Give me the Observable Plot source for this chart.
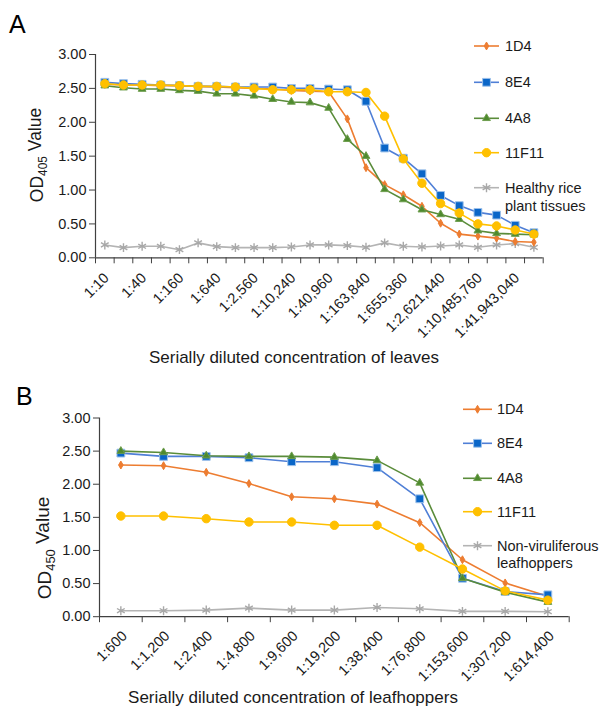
<!DOCTYPE html>
<html>
<head>
<meta charset="utf-8">
<script src="https://cdn.jsdelivr.net/npm/d3@7"></script>
<script src="https://cdn.jsdelivr.net/npm/@observablehq/plot@0.6"></script>
<style>
  html, body { margin: 0; padding: 0; background: #fff; }
  #chart { width: 601px; height: 710px; position: relative; }
  #chart svg { display: block; overflow: visible; }
</style>
</head>
<body>
<div id="chart"></div>
<script>
// ---------- DATA ----------
const seriesNames = ["1D4", "8E4", "4A8", "11F11"];

// Panel A: serial dilutions of leaves
const catsA = ["1:10", "1:20", "1:40", "1:80", "1:160", "1:320", "1:640", "1:1,280",
  "1:2,560", "1:5,120", "1:10,240", "1:20,480", "1:40,960", "1:81,920", "1:163,840",
  "1:327,680", "1:655,360", "1:1,310,720", "1:2,621,440", "1:5,242,880", "1:10,485,760",
  "1:20,971,520", "1:41,943,040", "1:83,886,080"];
const labeledA = ["1:10", "1:40", "1:160", "1:640", "1:2,560", "1:10,240", "1:40,960",
  "1:163,840", "1:655,360", "1:2,621,440", "1:10,485,760", "1:41,943,040"];
const a1D4 = [2.56, 2.55, 2.55, 2.54, 2.54, 2.53, 2.52, 2.51, 2.50, 2.49, 2.47, 2.46, 2.45, 2.05, 1.33, 1.08, 0.93, 0.76, 0.51, 0.35, 0.32, 0.29, 0.24, 0.23];
const a8E4 = [2.59, 2.57, 2.56, 2.55, 2.54, 2.53, 2.53, 2.52, 2.52, 2.52, 2.50, 2.50, 2.49, 2.48, 2.31, 1.62, 1.47, 1.24, 0.92, 0.77, 0.67, 0.63, 0.48, 0.37];
const a4A8 = [2.54, 2.51, 2.49, 2.49, 2.47, 2.46, 2.42, 2.42, 2.39, 2.34, 2.30, 2.29, 2.21, 1.75, 1.50, 1.01, 0.86, 0.71, 0.64, 0.57, 0.40, 0.36, 0.35, 0.34];
const a11F11 = [2.57, 2.55, 2.55, 2.55, 2.54, 2.53, 2.53, 2.52, 2.50, 2.48, 2.48, 2.48, 2.45, 2.45, 2.44, 2.09, 1.46, 1.10, 0.80, 0.66, 0.50, 0.47, 0.41, 0.35];
const aHealthy = [0.19, 0.15, 0.17, 0.17, 0.12, 0.22, 0.165, 0.15, 0.15, 0.15, 0.16, 0.19, 0.19, 0.18, 0.155, 0.22, 0.17, 0.16, 0.175, 0.19, 0.155, 0.19, 0.21, 0.155];
const controlNameA = ["Healthy rice", "plant tissues"];

// Panel B: serial dilutions of leafhoppers
const catsB = ["1:600", "1:1,200", "1:2,400", "1:4,800", "1:9,600", "1:19,200",
  "1:38,400", "1:76,800", "1:153,600", "1:307,200", "1:614,400"];
const b1D4 = [2.29, 2.28, 2.18, 2.01, 1.81, 1.78, 1.70, 1.42, 0.86, 0.51, 0.31];
const b8E4 = [2.47, 2.42, 2.42, 2.40, 2.34, 2.34, 2.25, 1.78, 0.58, 0.38, 0.33];
const b4A8 = [2.50, 2.48, 2.43, 2.42, 2.42, 2.41, 2.36, 2.02, 0.58, 0.37, 0.22];
const b11F11 = [1.52, 1.52, 1.48, 1.43, 1.43, 1.38, 1.38, 1.05, 0.72, 0.39, 0.25];
const bControl = [0.09, 0.09, 0.10, 0.13, 0.10, 0.10, 0.14, 0.12, 0.08, 0.08, 0.075];
const controlNameB = ["Non-viruliferous", "leafhoppers"];

const yTicks = [0, 0.5, 1, 1.5, 2, 2.5, 3];

// ---------- STYLE ----------
const FONT = "'Liberation Sans', Arial, Helvetica, sans-serif";
const AXIS = "#404040";
const TEXT = "#1a1a1a";
const styles = {
  "1D4":   {line: "#ED7D31", fill: "#ED7D31", stroke: "#ED7D31", symbol: "diamond", r: 2.4, sw: 1},
  "8E4":   {line: "#4F7FD6", fill: "#0A66C8", stroke: "#9CC0EA", symbol: "square", r: 4.4, sw: 1},
  "4A8":   {line: "#5A8C3A", fill: "#4E8A2E", stroke: "#6E9E4E", symbol: "triangle", r: 2.9, sw: 1},
  "11F11": {line: "#FFC000", fill: "#FFC000", stroke: "#FFC000", symbol: "circle", r: 4.2, sw: 1},
  "ctrl":  {line: "#B4B4B4", fill: "none", stroke: "#A8A8A8", symbol: "asterisk", r: 4.2, sw: 1.4}
};
const d3Sym = {diamond: d3.symbolDiamond, square: d3.symbolSquare, triangle: d3.symbolTriangle, circle: d3.symbolCircle, asterisk: d3.symbolAsterisk};

function rows(values) { return values.map((v, i) => ({i, v})); }

function makePanel(cfg) {
  const n = cfg.cats.length;
  const boundaries = d3.range(n + 1).map(k => k - 0.5);
  const labelIdx = cfg.labeled.map(l => cfg.cats.indexOf(l));
  const marks = [
    Plot.axisY({ticks: yTicks, tickFormat: d => d.toFixed(2), tickSize: 6, tickPadding: 3,
      label: null, stroke: AXIS, fill: TEXT, fontSize: 14.5}),
    Plot.axisX({ticks: boundaries, tickFormat: () => "", tickSize: 6, label: null, stroke: AXIS}),
    Plot.ruleX([-0.5], {stroke: AXIS, strokeWidth: 1.2}),
    Plot.ruleY([0], {stroke: AXIS, strokeWidth: 1.2}),
    Plot.text(labelIdx, {x: d => d, frameAnchor: "bottom", text: d => cfg.cats[d], rotate: -45,
      textAnchor: "end", dx: cfg.lblDx, dy: cfg.lblDy, fontSize: 14.5, fill: TEXT})
  ];
  const order = ["ctrl", "1D4", "8E4", "4A8", "11F11"];
  for (const key of order) {
    const st = styles[key];
    const data = rows(cfg.series[key]);
    marks.push(Plot.line(data, {x: "i", y: "v", stroke: st.line, strokeWidth: 1.6}));
    if (st.symbol === "asterisk") {
      marks.push(Plot.dot(data, {x: "i", y: "v", symbol: () => "asterisk", r: st.r, stroke: st.stroke, strokeWidth: st.sw, fill: "none"}));
    } else {
      marks.push(Plot.dot(data, {x: "i", y: "v", symbol: () => st.symbol, r: st.r, fill: st.fill, stroke: st.stroke, strokeWidth: st.sw}));
    }
  }
  const svg = Plot.plot({
    width: 601, height: cfg.height,
    marginLeft: cfg.ml, marginRight: cfg.mr, marginTop: cfg.mt, marginBottom: cfg.mb,
    x: {type: "linear", domain: [-0.5, n - 0.5], axis: null},
    y: {domain: [0, 3], axis: null},
    symbol: {type: "identity"},
    style: {fontFamily: FONT, fontSize: "14.5px", background: "#fff", color: TEXT, overflow: "visible"},
    marks
  });

  const s = d3.select(svg);
  // panel letter
  s.append("text").attr("x", cfg.letterX).attr("y", cfg.letterY).attr("text-anchor", "start")
    .attr("font-family", FONT).attr("font-size", 25).attr("fill", "#000").text(cfg.letter);
  // y label with subscript
  const yl = s.append("text")
    .attr("transform", `translate(${cfg.ylX},${cfg.ylY}) rotate(-90)`)
    .attr("text-anchor", "middle").attr("font-family", FONT).attr("font-size", cfg.ylSize).attr("fill", TEXT);
  yl.append("tspan").text("OD");
  yl.append("tspan").attr("font-size", cfg.ylSize * 0.68).attr("dy", "0.3em").text(cfg.sub);
  yl.append("tspan").attr("dy", "-0.3em").text(" Value");
  // x title
  s.append("text").attr("x", cfg.xtX).attr("y", cfg.xtY).attr("text-anchor", "middle")
    .attr("font-family", FONT).attr("font-size", cfg.xtSize).attr("fill", TEXT).text(cfg.xTitle);
  // legend
  const lg = s.append("g").attr("font-family", FONT).attr("font-size", 14.5).attr("fill", TEXT)
    .attr("text-anchor", "start");
  const items = ["1D4", "8E4", "4A8", "11F11", "ctrl"];
  items.forEach((key, k) => {
    const st = styles[key];
    const y = cfg.legY[k];
    lg.append("line").attr("x1", cfg.legX0).attr("x2", cfg.legX1).attr("y1", y).attr("y2", y)
      .attr("stroke", st.line).attr("stroke-width", 1.6);
    const size = Math.PI * st.r * st.r;
    lg.append("path").attr("transform", `translate(${(cfg.legX0 + cfg.legX1) / 2},${y})`)
      .attr("d", d3.symbol(d3Sym[st.symbol], size)())
      .attr("fill", st.fill).attr("stroke", st.stroke).attr("stroke-width", st.sw);
    if (key === "ctrl") {
      lg.append("text").attr("text-anchor", "start").attr("x", cfg.legTX).attr("y", y).attr("dy", "0.35em").text(cfg.ctrlName[0]);
      lg.append("text").attr("text-anchor", "start").attr("x", cfg.legTX).attr("y", cfg.legY[5]).attr("dy", "0.35em").text(cfg.ctrlName[1]);
    } else {
      lg.append("text").attr("text-anchor", "start").attr("x", cfg.legTX).attr("y", y).attr("dy", "0.35em").text(key);
    }
  });
  return svg;
}

const chart = document.getElementById("chart");
chart.appendChild(makePanel({
  cats: catsA, labeled: labeledA,
  series: {"1D4": a1D4, "8E4": a8E4, "4A8": a4A8, "11F11": a11F11, "ctrl": aHealthy},
  height: 380, ml: 95, mr: 58.3, mt: 54, mb: 122.7,
  lblDx: 5, lblDy: 21,
  letter: "A", letterX: 9, letterY: 33,
  ylX: 43, ylY: 155, ylSize: 17.5, sub: "405",
  xtX: 294, xtY: 363, xtSize: 17, xTitle: "Serially diluted concentration of leaves",
  legX0: 474, legX1: 499, legTX: 505, legY: [46, 82.3, 118.3, 152.7, 187.7, 205.7],
  ctrlName: controlNameA
}));
chart.appendChild(makePanel({
  cats: catsB, labeled: catsB,
  series: {"1D4": b1D4, "8E4": b8E4, "4A8": b4A8, "11F11": b11F11, "ctrl": bControl},
  height: 330, ml: 99, mr: 32.3, mt: 37.5, mb: 93.8,
  lblDx: 7, lblDy: 20,
  letter: "B", letterX: 16, letterY: 25,
  ylX: 51, ylY: 168, ylSize: 19, sub: "450",
  xtX: 293, xtY: 323, xtSize: 17, xTitle: "Serially diluted concentration of leafhoppers",
  legX0: 463, legX1: 492, legTX: 497, legY: [29.3, 63.3, 98.3, 131.7, 165.7, 183.3],
  ctrlName: controlNameB
}));
</script>
</body>
</html>
